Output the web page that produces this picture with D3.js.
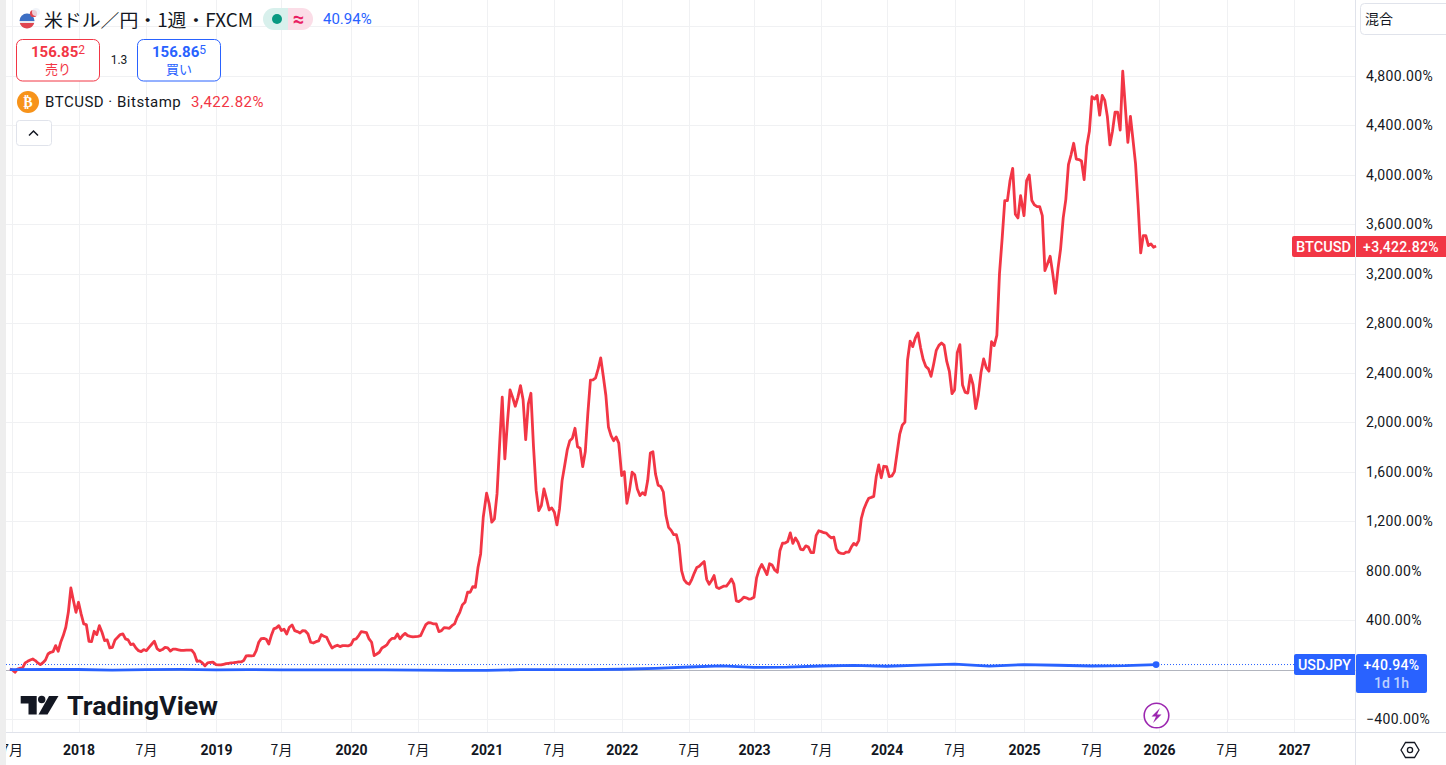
<!DOCTYPE html>
<html lang="ja">
<head>
<meta charset="utf-8">
<title>BTCUSD / USDJPY</title>
<script src="https://cdn.jsdelivr.net/npm/d3@7"></script>
<style>
  html, body { margin: 0; padding: 0; background: #fff; overflow: hidden; }
  svg { display: block; }
  text { font-family: Roboto, "Noto Sans CJK JP", sans-serif; fill: #131722; }
  .cjk { font-family: "Noto Sans CJK JP", Roboto, sans-serif; }
</style>
</head>
<body>
<svg id="chart" width="1446" height="765"></svg>
<script>

// weekly % change, one list per year
var btc2017 = [5,-3,-22,5,11,13,54,67,78,86,73,54,40,56,78,126,140,145,194,148,221,275,342,463,660,558,463];
var btc2018 = [544,450,369,364,229,226,310,283,355,302,234,240,175,180,240,261,283,288,248,240,202,207,175,153,145,162,153,180,205,229,170,153,162,180,175,150,165,165,160,155,155,158,158,158,130,67,70,55,30,55,58,60];
var btc2019 = [40,38,38,43,48,51,54,56,59,62,62,73,110,113,110,113,153,221,250,253,245,207,275,329,337,355,315,326,288,342,361,315,307,296,315,312,288,221,215,226,232,283,269,261,215,175,188,197,186,194,194,191];
var btc2020 = [202,242,248,275,307,303,299,248,221,113,126,140,175,186,202,235,253,253,288,248,275,293,275,269,264,267,269,275,320,364,380,377,369,369,307,315,339,337,334,355,369,423,463,523,544,625,625,671,665,827,935,1231];
var btc2021 = [1425,1339,1191,1218,1420,1824,2201,1703,2000,2260,2200,2128,2200,2295,2180,1859,2147,2233,1800,1450,1285,1325,1460,1380,1290,1307,1272,1169,1300,1527,1650,1775,1850,1870,1950,1800,1789,1640,1760,2070,2340,2341,2357,2430,2519,2370,2215,1960,1890,1850,1880,1830];
var btc2022 = [1568,1600,1344,1450,1595,1575,1460,1406,1430,1412,1530,1750,1760,1580,1490,1480,1435,1245,1150,1125,1090,1090,1010,800,725,700,690,730,780,825,835,855,873,730,690,720,760,665,655,665,675,675,700,733,690,555,550,563,585,580,570,572];
var btc2023 = [585,741,810,849,810,768,855,845,805,786,960,1021,1023,1035,1105,1020,1064,1029,972,968,1000,990,945,945,1085,1122,1115,1106,1103,1080,1064,1070,975,945,940,937,950,950,990,1020,1005,1045,1220,1295,1345,1385,1392,1400,1560,1654,1550,1643];
var btc2024 = [1640,1559,1565,1600,1750,1900,1975,2000,2500,2655,2610,2680,2720,2600,2505,2450,2430,2370,2470,2580,2620,2640,2620,2490,2410,2230,2260,2560,2626,2300,2240,2235,2380,2300,2110,2220,2400,2510,2440,2411,2650,2618,2700,3200,3480,3790,3790,3952,4050,3680,3650,3830];
var btc2025 = [3668,3951,3997,3790,3755,3741,3741,3668,3224,3280,3340,3200,3040,3240,3400,3650,3800,4080,4160,4253,4126,4122,4110,3960,4230,4350,4630,4610,4640,4480,4640,4600,4470,4240,4350,4504,4505,4360,4835,4550,4260,4470,4280,4086,3750,3367,3507,3507,3426,3440,3413,3422.82];

var usdDates = ["2017-06-26","2017-10-01","2018-01-01","2018-04-01","2018-07-01","2018-10-01","2019-01-01","2019-04-01","2019-07-01","2019-10-01","2020-01-01","2020-04-01","2020-07-01","2020-10-01","2021-01-01","2021-04-01","2021-07-01","2021-10-01","2022-01-01","2022-04-01","2022-07-01","2022-10-01","2023-01-01","2023-04-01","2023-07-01","2023-10-01","2024-01-01","2024-04-01","2024-07-01","2024-10-01","2025-01-01","2025-04-01","2025-07-01","2025-10-01","2025-12-24"];
var usdValues = [0,1,1,-4,0,2,-2,0,-3,-3,-3,-3,-4,-6,-7,-1,0,0,3,10,21,30,18,20,29,34,27,36,45,28,41,35,29,32,40.94];

var timeTicks = ["2017-07-01","2018-01-01","2018-07-01","2019-01-01","2019-07-01","2020-01-01","2020-07-01","2021-01-01","2021-07-01","2022-01-01","2022-07-01","2023-01-01","2023-07-01","2024-01-01","2024-07-01","2025-01-01","2025-07-01","2026-01-01","2026-07-01","2027-01-01"];
var valueTicks = [-400,0,400,800,1200,1600,2000,2400,2800,3200,3600,4000,4400,4800,5200];
var labelTicks = [-400,400,800,1200,1600,2000,2400,2800,3200,3600,4000,4400,4800];

var parseDay = d3.utcParse("%Y-%m-%d");

function yearSeries(year, values) {
  var start = Date.UTC(year, 0, 1);
  return values.map(function(v, i) {
    return { date: new Date(start + i * 7 * 864e5), value: v };
  });
}

var btcSeries = [].concat(
  btc2017.map(function(v, i) { return { date: new Date(Date.UTC(2017, 5, 26) + i * 7 * 864e5), value: v }; }),
  yearSeries(2018, btc2018), yearSeries(2019, btc2019), yearSeries(2020, btc2020),
  yearSeries(2021, btc2021), yearSeries(2022, btc2022), yearSeries(2023, btc2023),
  yearSeries(2024, btc2024), yearSeries(2025, btc2025));

var usdSeries = usdDates.map(function(d, i) { return { date: parseDay(d), value: usdValues[i] }; });

var left = 6, axisX = 1355.5, axisY = 732.5;
var RED = "#f23645", BLUE = "#2962ff", GRID = "#f0f1f3", LINE = "#e0e3eb";

// the time axis is not quite even on the original, hence one stop per tick
var x = d3.scaleUtc()
  .domain(timeTicks.map(parseDay))
  .range([11.7,78.5,146,216,281,351,418,486.6,554,621.7,689,754,821,886.6,954.6,1024,1091.6,1159,1227,1294]);
var y = d3.scaleLinear().domain([-400, 5200]).range([719.1, 26.1]);

var svg = d3.select("#chart");

// grid + axes
var xAxis = d3.axisBottom(x)
  .tickValues(timeTicks.map(parseDay))
  .tickSize(0)
  .tickPadding(13)
  .tickFormat(function(d) { return d.getUTCMonth() === 0 ? d.getUTCFullYear() : "7月"; });

svg.append("g").attr("class", "xgrid")
  .selectAll("line").data(timeTicks.map(parseDay)).join("line")
  .attr("x1", function(d) { return Math.round(x(d)) + 0.5; })
  .attr("x2", function(d) { return Math.round(x(d)) + 0.5; })
  .attr("y1", 0).attr("y2", axisY)
  .attr("stroke", GRID);

svg.append("g").attr("class", "ygrid")
  .selectAll("line").data(valueTicks).join("line")
  .attr("x1", left).attr("x2", axisX)
  .attr("y1", function(d) { return Math.round(y(d)) + 0.5; })
  .attr("y2", function(d) { return Math.round(y(d)) + 0.5; })
  .attr("stroke", GRID);

var gx = svg.append("g").attr("transform", "translate(0," + axisY + ")").call(xAxis);
gx.select(".domain").remove();
gx.selectAll("text")
  .attr("class", "cjk")
  .style("font-family", function(d) { return d.getUTCMonth() === 0 ? "Roboto" : null; })
  .style("font-size", "14px")
  .style("font-weight", function(d) { return d.getUTCMonth() === 0 ? 700 : 400; })
  .style("fill", "#131722");

var yAxis = d3.axisRight(y)
  .tickValues(labelTicks)
  .tickSize(0)
  .tickPadding(10.5)
  .tickFormat(function(d) { return d3.format(",.2f")(d).replace("-", "−") + "%"; });
var gy = svg.append("g").attr("transform", "translate(" + axisX + ",0)").call(yAxis);
gy.select(".domain").remove();
gy.selectAll("text").style("font-size", "14px").style("font-family", "Roboto").style("letter-spacing", "0.35px").style("fill", "#131722");

svg.append("line").attr("x1", left).attr("x2", 1446).attr("y1", axisY).attr("y2", axisY).attr("stroke", LINE);
svg.append("line").attr("x1", axisX).attr("x2", axisX).attr("y1", 0).attr("y2", 765).attr("stroke", LINE);

// left edge of the pane covers the first label
svg.append("rect").attr("x", 0).attr("y", 0).attr("width", left).attr("height", 765).attr("fill", "#eeeeee");

// baseline + last value guide
var y0 = Math.round(y(0)) + 0.5;
var lastUsd = usdSeries[usdSeries.length - 1];
svg.append("line").attr("x1", left).attr("x2", axisX).attr("y1", y0).attr("y2", y0).attr("stroke", "#b2b5be");
svg.append("line").attr("x1", left).attr("x2", 1294).attr("y1", y(lastUsd.value)).attr("y2", y(lastUsd.value))
  .attr("stroke", BLUE).attr("stroke-dasharray", "1 2");

// series
var line = d3.line()
  .x(function(d) { return x(d.date); })
  .y(function(d) { return y(d.value); });

svg.append("path").datum(btcSeries).attr("d", line)
  .attr("fill", "none").attr("stroke", RED).attr("stroke-width", 2.8).attr("stroke-linejoin", "round");
svg.append("path").datum(usdSeries).attr("d", line)
  .attr("fill", "none").attr("stroke", BLUE).attr("stroke-width", 2.8).attr("stroke-linejoin", "round");
svg.append("circle").attr("cx", x(lastUsd.date)).attr("cy", y(lastUsd.value)).attr("r", 3.4).attr("fill", BLUE);

// price labels
function priceTag(name, value, color, yy, nameX, h) {
  svg.append("path").attr("fill", color)
    .attr("d", "M" + (nameX + 2) + "," + yy + "H1355V" + (yy + 21) + "H" + (nameX + 2) + "q-2,0 -2,-2V" + (yy + 2) + "q0,-2 2,-2z");
  svg.append("text").text(name).attr("x", (nameX + 1355) / 2).attr("y", yy + 15.5)
    .attr("text-anchor", "middle").style("fill", "#fff").style("font-size", "14px").style("font-weight", 500)
    .attr("textLength", 1355 - nameX - 8).attr("lengthAdjust", "spacingAndGlyphs");
  svg.append("rect").attr("x", 1356).attr("y", yy).attr("width", value.w).attr("height", h).attr("rx", value.r).attr("fill", color);
  svg.append("text").text(value.text).attr("x", 1356 + value.w / 2 + value.dx).attr("y", yy + 15.5)
    .attr("text-anchor", "middle").style("fill", "#fff").style("font-size", "14px").style("font-weight", 500)
    .style("letter-spacing", "0.3px");
}
priceTag("BTCUSD", { text: "+3,422.82%", w: 92, r: 0, dx: -1 }, RED, 236, 1292, 21);
priceTag("USDJPY", { text: "+40.94%", w: 71, r: 2, dx: 0 }, BLUE, 654, 1294, 39);
svg.append("text").text("1d 1h").attr("x", 1391.5).attr("y", 688).attr("text-anchor", "middle")
  .style("fill", "#bcd0ff").style("font-size", "14px").style("font-weight", 500);

// legend
var flag = svg.append("g");
flag.append("circle").attr("cx", 27).attr("cy", 21).attr("r", 7.5).attr("fill", "#e8e8ee");
flag.append("path").attr("d", "M19.5,21a7.5,7.5 0 0 1 15,0z").attr("fill", "#3d6fc4");
flag.append("path").attr("d", "M19.8,23H34.2a7.5,7.5 0 0 1 -14.4,0z").attr("fill", "#e0454f");
flag.append("circle").attr("cx", 33.5).attr("cy", 13.5).attr("r", 3.6).attr("fill", "#e0454f");
flag.append("circle").attr("cx", 36).attr("cy", 12).attr("r", 4).attr("fill", "#eef1f7").attr("opacity", 0.8);

svg.append("text").attr("class", "cjk").text("米ドル／円・1週・FXCM").attr("x", 44).attr("y", 27)
  .style("font-size", "18px").attr("textLength", 209).attr("lengthAdjust", "spacingAndGlyphs");

svg.append("path").attr("d", "M274,8H288V30H274a11,11 0 0 1 0,-22z").attr("fill", "#d8f0ec");
svg.append("path").attr("d", "M288,8H302a11,11 0 0 1 0,22H288z").attr("fill", "#fbdde7");
svg.append("circle").attr("cx", 277).attr("cy", 19).attr("r", 5).attr("fill", "#089981");
svg.append("text").text("≈").attr("x", 298.5).attr("y", 25.5).attr("text-anchor", "middle")
  .style("fill", "#e91e63").style("font-size", "20px").style("font-weight", 700);
svg.append("text").text("40.94%").attr("x", 323).attr("y", 24).style("fill", BLUE).style("font-size", "15px");

function quote(xx, color, main, tail, label) {
  svg.append("rect").attr("x", xx).attr("y", 39.5).attr("width", 83).attr("height", 41.5).attr("rx", 6)
    .attr("fill", "#fff").attr("stroke", color);
  var t = svg.append("text").attr("x", xx + 41.5).attr("y", 57).attr("text-anchor", "middle")
    .style("fill", color).style("font-size", "15px").style("font-weight", 700);
  t.append("tspan").text(main);
  t.append("tspan").text(tail).attr("dy", -3).style("font-size", "12px").style("font-weight", 400).style("fill", color);
  svg.append("text").attr("class", "cjk").text(label).attr("x", xx + 41.5).attr("y", 74).attr("text-anchor", "middle")
    .style("fill", color).style("font-size", "13px");
}
quote(16.5, RED, "156.85", "2", "売り");
quote(137.5, BLUE, "156.86", "5", "買い");
svg.append("text").text("1.3").attr("x", 119).attr("y", 64).attr("text-anchor", "middle").style("font-size", "12px");

svg.append("circle").attr("cx", 28).attr("cy", 102).attr("r", 11).attr("fill", "#f7931a");
svg.append("text").text("₿").attr("x", 28).attr("y", 107).attr("text-anchor", "middle")
  .style("fill", "#fff").style("font-size", "14px").style("font-weight", 700).style("font-family", "DejaVu Sans");
svg.append("text").text("BTCUSD · Bitstamp").attr("x", 45).attr("y", 107).style("font-size", "15px").style("letter-spacing", "0.5px");
svg.append("text").text("3,422.82%").attr("x", 191).attr("y", 107).style("fill", RED).style("font-size", "15px").style("letter-spacing", "0.5px");

svg.append("rect").attr("x", 16.5).attr("y", 120.5).attr("width", 35).attr("height", 25).attr("rx", 3)
  .attr("fill", "#fff").attr("stroke", LINE);
svg.append("path").attr("d", "M29,135.5l4.5,-4.5l4.5,4.5").attr("fill", "none").attr("stroke", "#131722").attr("stroke-width", 1.5);

// scale mode button
svg.append("rect").attr("x", 1360.5).attr("y", 3.5).attr("width", 100).attr("height", 31).attr("rx", 4)
  .attr("fill", "#fff").attr("stroke", LINE);
svg.append("text").attr("class", "cjk").text("混合").attr("x", 1365).attr("y", 24).style("font-size", "14px");

// TradingView mark
var logo = svg.append("g").attr("fill", "#131722");
logo.append("path").attr("d", "M20.7,696H36.7V714.5H28.5V703.5H20.7z");
logo.append("circle").attr("cx", 41.7).attr("cy", 699.5).attr("r", 3.7);
logo.append("path").attr("d", "M49,696H58.5L47.5,714.5H38.5z");
svg.append("text").text("TradingView").attr("x", 67).attr("y", 715)
  .style("font-size", "26px").style("font-weight", 700).attr("textLength", 151).attr("lengthAdjust", "spacingAndGlyphs");

// event badge + settings
svg.append("circle").attr("cx", 1156.5).attr("cy", 715.5).attr("r", 12.3).attr("fill", "#fff").attr("stroke", "#9c27b0").attr("stroke-width", 1.6);
svg.append("path").attr("d", "M1160,708L1151.5,716.5H1156L1153,723L1161.5,714.5H1157z").attr("fill", "#9c27b0");
svg.append("path").attr("d", "M1401,750L1405.5,742.5H1414.5L1419,750L1414.5,757.5H1405.5z").attr("fill", "none").attr("stroke", "#131722").attr("stroke-width", 1.3);
svg.append("circle").attr("cx", 1410).attr("cy", 750).attr("r", 2.6).attr("fill", "none").attr("stroke", "#131722").attr("stroke-width", 1.3);

</script>
</body>
</html>
